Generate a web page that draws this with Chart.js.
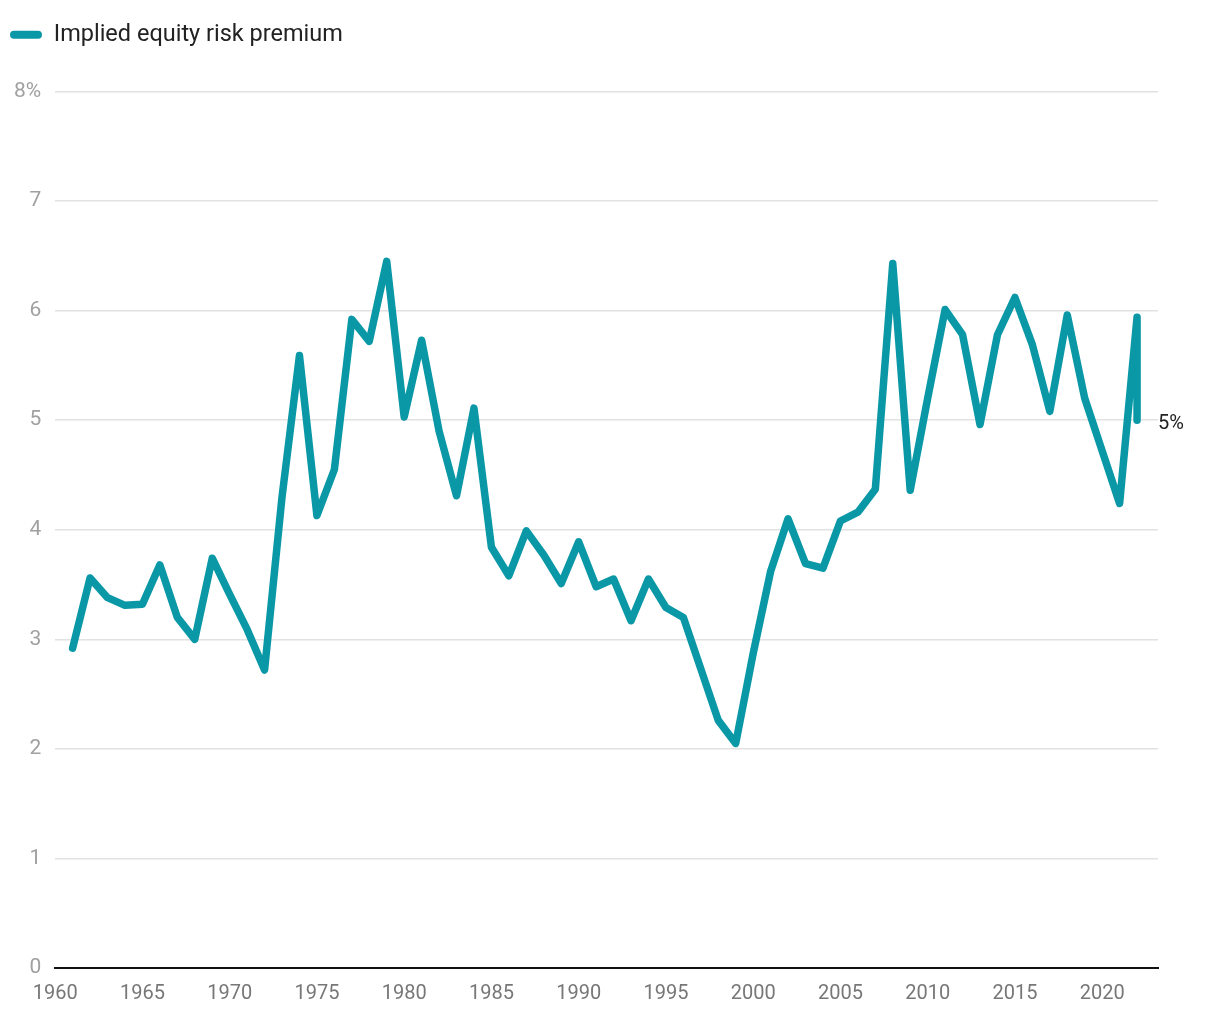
<!DOCTYPE html>
<html>
<head>
<meta charset="utf-8">
<script src="https://cdn.jsdelivr.net/npm/chart.js@4.4.0/dist/chart.umd.min.js"></script>
<style>
  html, body { margin: 0; padding: 0; background: #fff; }
  canvas { display: block; }
</style>
</head>
<body>
<canvas id="erp-chart" width="1220" height="1020"></canvas>
<script>
// Implied equity risk premium, yearly, last entry is the current reading
const years = [
  1961, 1962, 1963, 1964, 1965, 1966, 1967, 1968, 1969, 1970,
  1971, 1972, 1973, 1974, 1975, 1976, 1977, 1978, 1979, 1980,
  1981, 1982, 1983, 1984, 1985, 1986, 1987, 1988, 1989, 1990,
  1991, 1992, 1993, 1994, 1995, 1996, 1997, 1998, 1999, 2000,
  2001, 2002, 2003, 2004, 2005, 2006, 2007, 2008, 2009, 2010,
  2011, 2012, 2013, 2014, 2015, 2016, 2017, 2018, 2019, 2020,
  2021, 2022, 2022
];
const premium = [
  2.92, 3.56, 3.38, 3.31, 3.32, 3.68, 3.20, 3.00, 3.74, 3.41,
  3.09, 2.72, 4.30, 5.59, 4.13, 4.55, 5.92, 5.72, 6.45, 5.03,
  5.73, 4.90, 4.31, 5.11, 3.84, 3.58, 3.99, 3.77, 3.51, 3.89,
  3.48, 3.55, 3.17, 3.55, 3.29, 3.20, 2.73, 2.26, 2.05, 2.87,
  3.62, 4.10, 3.69, 3.65, 4.08, 4.16, 4.37, 6.43, 4.36, 5.20,
  6.01, 5.78, 4.96, 5.78, 6.12, 5.69, 5.08, 5.96, 5.20, 4.72,
  4.24, 5.94, 5.00
];
const xTicks = [1960, 1965, 1970, 1975, 1980, 1985, 1990, 1995, 2000, 2005, 2010, 2015, 2020];
const yTicks = [0, 1, 2, 3, 4, 5, 6, 7, 8];
const endLabel = '5%';

const teal = '#0a98a6';

// writes the last value to the right of the line end
const endLabelPlugin = {
  id: 'endLabel',
  afterDatasetsDraw(chart) {
    const x = chart.scales.x, y = chart.scales.y;
    const i = years.length - 1;
    const ctx = chart.ctx;
    ctx.save();
    ctx.font = '20px Roboto';
    ctx.fillStyle = '#222';
    ctx.textAlign = 'left';
    ctx.textBaseline = 'middle';
    ctx.fillText(endLabel, x.getPixelForValue(years[i]) + 21, y.getPixelForValue(premium[i]) + 4);
    ctx.restore();
  }
};

// extra room under the legend
const legendGap = {
  id: 'legendGap',
  beforeInit(chart) {
    const fit = chart.legend.fit;
    chart.legend.fit = function () {
      fit.bind(chart.legend)();
      this.height += 35;
    };
  }
};

const points = years.map((yr, i) => ({x: yr, y: premium[i]}));

new Chart(document.getElementById('erp-chart').getContext('2d'), {
  type: 'line',
  data: {
    datasets: [{
      label: 'Implied equity risk premium',
      data: points,
      borderColor: teal,
      backgroundColor: teal,
      borderWidth: 7.5,
      borderCapStyle: 'round',
      borderJoinStyle: 'round',
      pointRadius: 0,
      tension: 0,
      fill: false
    }]
  },
  options: {
    responsive: false,
    animation: false,
    devicePixelRatio: 1,
    layout: {padding: {left: 0, right: 62, top: 13, bottom: 0}},
    plugins: {
      legend: {
        display: true,
        position: 'top',
        align: 'start',
        labels: {
          boxWidth: 32,
          boxHeight: 8,
          useBorderRadius: true,
          borderRadius: 4,
          color: '#222',
          font: {family: 'Roboto', size: 23.5},
          padding: 10,
          generateLabels: chart => Chart.defaults.plugins.legend.labels.generateLabels(chart)
            .map(item => Object.assign(item, {lineWidth: 0}))
        }
      },
      tooltip: {enabled: false}
    },
    scales: {
      x: {
        type: 'linear',
        min: 1960,
        max: 2023.2,
        afterBuildTicks: s => { s.ticks = xTicks.map(v => ({value: v})); },
        grid: {display: false, drawTicks: false},
        border: {display: true, color: '#111', width: 2},
        ticks: {
          color: '#777',
          font: {family: 'Roboto', size: 20, lineHeight: 0.8},
          padding: 18,
          maxRotation: 0,
          callback: v => String(v)
        }
      },
      y: {
        min: 0,
        max: 8,
        afterBuildTicks: s => { s.ticks = yTicks.map(v => ({value: v})); },
        grid: {color: '#e2e2e2', lineWidth: 1.5, drawTicks: false},
        border: {display: false},
        ticks: {
          color: '#a0a0a0',
          font: {family: 'Roboto', size: 21},
          padding: 14,
          callback: v => v === 8 ? '8%' : String(v)
        }
      }
    }
  },
  plugins: [endLabelPlugin, legendGap]
});
</script>
</body>
</html>
